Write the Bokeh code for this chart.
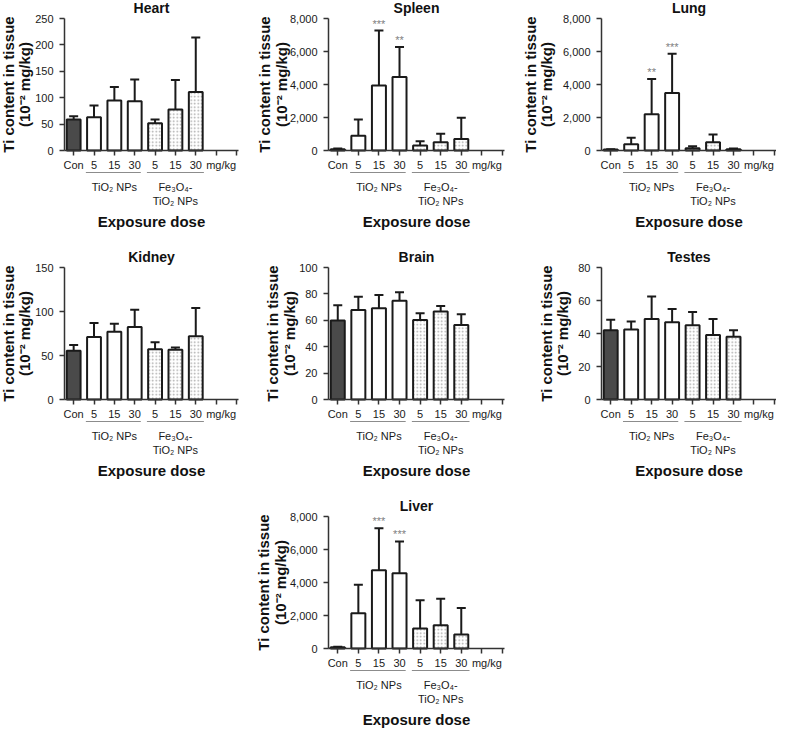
import math
from bokeh.plotting import figure
from bokeh.layouts import gridplot
from bokeh.models import (LinearAxis, FixedTicker, NumeralTickFormatter, Whisker,
                          TeeHead, ColumnDataSource, Range1d)
from bokeh.core.properties import value
from bokeh.embed import file_html
from bokeh.resources import INLINE

# ---------------- data ----------------
dose_labels = ["Con", "5", "15", "30", "5", "15", "30"]
unit_label = "mg/kg"
group_labels = ["TiO₂ NPs", "Fe₃O₄-\nTiO₂ NPs"]
bar_groups = ["con", "tio2", "tio2", "tio2", "fe", "fe", "fe"]
y_label_lines = ["Ti content in tissue", "(10⁻² mg/kg)"]
x_label = "Exposure dose"

heart_mean = [58.5, 63, 94.5, 93.5, 51.5, 77.5, 111]
heart_sd = [6.5, 22, 26, 41, 7, 56, 103]
spleen_mean = [80, 900, 3940, 4460, 300, 500, 700]
spleen_sd = [40, 980, 3330, 1820, 260, 510, 1280]
lung_mean = [60, 380, 2200, 3490, 140, 500, 80]
lung_sd = [20, 390, 2140, 2370, 120, 470, 40]
kidney_mean = [55.5, 71, 77, 82.5, 57, 56.5, 72]
kidney_sd = [6.5, 16, 9, 19.5, 8, 2.5, 32]
brain_mean = [59.8, 67.8, 69.1, 74.9, 60.3, 66.6, 56.5]
brain_sd = [11.6, 10.1, 10, 6.3, 5, 4.3, 8.1]
testes_mean = [41.9, 42.5, 48.8, 46.8, 45, 39.1, 38.1]
testes_sd = [6.5, 4.7, 13.7, 8, 8, 9.7, 3.8]
liver_mean = [80, 2140, 4735, 4555, 1210, 1410, 845]
liver_sd = [20, 1730, 2560, 1935, 1710, 1610, 1615]

spleen_stars = {2: "***", 3: "**"}
lung_stars = {2: "**", 3: "***"}
liver_stars = {2: "***", 3: "***"}

FONT = "Liberation Sans"
FILL = {"con": "#4a4a4a", "tio2": "white", "fe": "white"}
HATCH = {"con": "blank", "tio2": "blank", "fe": "dot"}

TOP_PX = 18      # frame top -> y max
PLOT_PX = 132    # y max -> zero


def panel(title, means, sds, ymax, ystep, stars, width, left, right, height, label_off):
    u = ymax / PLOT_PX  # data units per pixel (y)
    bot_px = height - TOP_PX - PLOT_PX
    x0, x1 = 0.55, 9.1
    ux = (x1 - x0) / (width - left - right)  # data units per pixel (x)
    p = figure(width=width, height=height, output_backend="svg", toolbar_location=None,
               x_axis_type=None, y_axis_type=None,
               x_range=Range1d(x0 - left * ux, x1 + right * ux),
               y_range=Range1d(-bot_px * u, ymax + TOP_PX * u),
               min_border_left=0, min_border_right=0,
               min_border_top=0, min_border_bottom=0)
    p.outline_line_color = None
    p.xgrid.visible = False
    p.ygrid.visible = False

    xs = list(range(1, len(means) + 1))
    upper = [m + s for m, s in zip(means, sds)]
    src = ColumnDataSource(dict(
        x=xs, mean=means, upper=upper,
        fill=[FILL[g] for g in bar_groups],
        hatch=[HATCH[g] for g in bar_groups]))

    p.vbar(x="x", top="mean", bottom=0, width=0.68, source=src,
           fill_color="fill", hatch_pattern="hatch", hatch_color="#a8a8a8",
           hatch_scale=3.5, hatch_weight=1,
           line_color="#1a1a1a", line_width=2)
    w = Whisker(source=src, base="x", lower="mean", upper="upper",
                line_color="#1a1a1a", line_width=2, lower_head=None,
                upper_head=TeeHead(size=9, line_width=2, line_color="#1a1a1a"))
    p.add_layout(w)

    if stars:
        sx = [xs[i] for i in stars]
        sy = [upper[i] for i in stars]
        p.text(x=sx, y=sy, text=list(stars.values()), text_align="center",
               text_baseline="middle", y_offset=-7, text_color="#808080",
               text_font=value(FONT), text_font_size="11px")

    # y axis at the start of the dose scale
    ya = LinearAxis(fixed_location=x0, bounds=(0, ymax),
                    ticker=FixedTicker(ticks=list(range(0, ymax + 1, ystep))),
                    formatter=NumeralTickFormatter(format="0,0"))
    # x axis at zero
    overrides = {i + 1: lab for i, lab in enumerate(dose_labels)}
    overrides[8] = ""
    overrides[9] = ""
    xa = LinearAxis(fixed_location=0, bounds=(x0, x1),
                    ticker=FixedTicker(ticks=list(range(1, 10))),
                    major_label_overrides=overrides)
    for ax in (ya, xa):
        ax.axis_line_color = "#333333"
        ax.axis_line_width = 1.5
        ax.major_tick_line_color = "#333333"
        ax.major_tick_line_width = 1.5
        ax.major_tick_out = 5
        ax.major_tick_in = 0
        ax.minor_tick_line_color = None
        ax.major_label_text_font = FONT
        ax.major_label_text_font_size = "11px"
        ax.major_label_text_color = "#1a1a1a"
    ya.major_label_standoff = 6
    xa.major_label_standoff = 3
    p.add_layout(ya, "left")
    p.add_layout(xa, "below")

    # unit label next to the last dose
    p.text(x=[8], y=[0], text=[unit_label], text_align="center", text_baseline="top",
           x_offset=5, y_offset=8, text_font=value(FONT), text_font_size="11px",
           text_color="#1a1a1a")

    # y-axis title (two bold lines, centred on 0..ymax)
    lx = [x0 + (label_off + (k * 2 - 1) * 8.2) * ux for k in range(len(y_label_lines))]
    p.text(x=lx, y=[ymax / 2] * len(lx), text=y_label_lines, angle=math.pi / 2,
           text_align="center", text_baseline="middle", text_font=value(FONT),
           text_font_size="15px", text_font_style="bold", text_color="#111111")

    # group underlines and labels
    p.segment(x0=[1.6, 4.6], y0=[-22 * u] * 2, x1=[4.3, 7.4], y1=[-22 * u] * 2,
              line_color="#8c8c8c", line_width=1)
    p.text(x=[3, 6], y=[-30 * u] * 2, text=group_labels, text_align="center",
           text_baseline="top", text_font=value(FONT), text_font_size="11px",
           text_color="#1a1a1a", text_line_height=1.2)
    # x label and title
    xm = (x0 + x1) / 2
    p.text(x=[xm], y=[-71 * u], text=[x_label], text_align="center",
           text_baseline="middle", text_font=value(FONT), text_font_size="15px",
           text_font_style="bold", text_color="#111111")
    p.text(x=[xm], y=[ymax + 11 * u], text=[title], text_align="center",
           text_baseline="middle", text_font=value(FONT), text_font_size="14px",
           text_font_style="bold", text_color="#111111")
    return p


C1 = dict(width=254, left=64, right=16)
C2 = dict(width=259, left=74, right=9)
C3 = dict(width=263, left=88, right=0)
R1, R2, R3 = 249, 249, 231

heart = panel("Heart", heart_mean, heart_sd, 250, 50, None, height=R1, label_off=-47.8, **C1)
spleen = panel("Spleen", spleen_mean, spleen_sd, 8000, 2000, spleen_stars, height=R1, label_off=-55.7, **C2)
lung = panel("Lung", lung_mean, lung_sd, 8000, 2000, lung_stars, height=R1, label_off=-63, **C3)
kidney = panel("Kidney", kidney_mean, kidney_sd, 150, 50, None, height=R2, label_off=-47.8, **C1)
brain = panel("Brain", brain_mean, brain_sd, 100, 20, None, height=R2, label_off=-47.5, **C2)
testes = panel("Testes", testes_mean, testes_sd, 80, 20, None, height=R2, label_off=-47, **C3)
liver = panel("Liver", liver_mean, liver_sd, 8000, 2000, liver_stars, height=R3, label_off=-56.5, **C2)

grid = gridplot([[heart, spleen, lung], [kidney, brain, testes], [None, liver, None]],
                toolbar_location=None)

open("out.html", "w").write(file_html(grid, INLINE))
